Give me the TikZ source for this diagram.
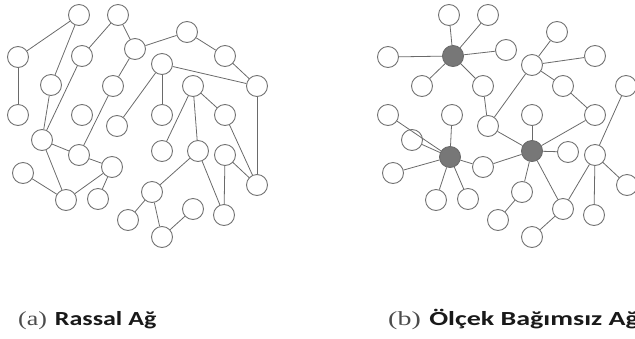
\documentclass[tikz,border=0pt]{standalone}
\usepackage{fontspec}
\newfontfamily\capfont{Carlito}
\newfontfamily\serfont{Liberation Serif}
\definecolor{edgec}{HTML}{6A6A6A}
\definecolor{ringc}{HTML}{737373}
\definecolor{hubc}{HTML}{777777}
\begin{document}
\begin{tikzpicture}[x=1pt,y=-1pt,
  nd/.style={circle,draw=ringc,line width=0.9pt,fill=white,minimum size=21pt,inner sep=0pt},
  hub/.style={nd,fill=hubc,draw=edgec},
  ed/.style={draw=edgec,line width=0.8pt},
  captext/.style={anchor=base west,inner sep=0pt}]
\useasboundingbox (0,0) rectangle (635,338);
% ---------- left graph ----------
\node[nd] (L1) at (79,15) {};
\node[nd] (L2) at (118,15) {};
\node[nd] (L3) at (18,57) {};
\node[nd] (L4) at (82,56) {};
\node[nd] (L5) at (135,49) {};
\node[nd] (L6) at (187,32) {};
\node[nd] (L7) at (225,56) {};
\node[nd] (L8) at (162,64) {};
\node[nd] (L9) at (51,85) {};
\node[nd] (L10) at (113,86) {};
\node[nd] (L11) at (193,86) {};
\node[nd] (L12) at (257,86) {};
\node[nd] (L13) at (18,115) {};
\node[nd] (L14) at (82,115) {};
\node[nd] (L15) at (117,126) {};
\node[nd] (L16) at (162,115) {};
\node[nd] (L17) at (225,115) {};
\node[nd] (L18) at (42,140) {};
\node[nd] (L19) at (79,155) {};
\node[nd] (L20) at (162,151) {};
\node[nd] (L21) at (198,151) {};
\node[nd] (L22) at (225,155) {};
\node[nd] (L23) at (112,167) {};
\node[nd] (L24) at (23,173) {};
\node[nd] (L25) at (66,200) {};
\node[nd] (L26) at (98,199) {};
\node[nd] (L27) at (152,192) {};
\node[nd] (L28) at (257,185) {};
\node[nd] (L29) at (193,209) {};
\node[nd] (L30) at (224,215) {};
\node[nd] (L31) at (128,220) {};
\node[nd] (L32) at (162,237) {};
\foreach \a/\b in {L3/L1,L3/L13,L1/L9,L9/L18,L4/L18,L2/L4,L2/L5,L5/L10,L10/L19,L5/L6,L6/L7,L7/L12,L8/L12,L8/L16,L8/L15,L11/L17,L11/L20,L11/L21,L17/L28,L12/L28,L21/L27,L21/L30,L22/L30,L22/L28,L27/L31,L27/L32,L29/L32,L18/L19,L18/L25,L19/L23,L23/L25,L23/L26,L24/L25}
  \draw[ed] (\a) -- (\b);
% ---------- right graph ----------
\node[hub] (H1) at (453,56) {};
\node[hub] (H2) at (450,157) {};
\node[hub] (H3) at (532,151) {};
\node[nd] (R1) at (449,15) {};
\node[nd] (R2) at (488,15) {};
\node[nd] (R3) at (388,57) {};
\node[nd] (R4) at (506,50) {};
\node[nd] (R5) at (422,86) {};
\node[nd] (R6) at (483,86) {};
\node[nd] (R7) at (557,32) {};
\node[nd] (R8) at (532,65) {};
\node[nd] (R9) at (595,56) {};
\node[nd] (R10) at (563,86) {};
\node[nd] (R11) at (626,86) {};
\node[nd] (R12) at (388,115) {};
\node[nd] (R13) at (452,115) {};
\node[nd] (R14) at (532,115) {};
\node[nd] (R15) at (595,115) {};
\node[nd] (R16) at (412,140) {};
\node[nd] (R17) at (488,126) {};
\node[nd] (R18) at (568,152) {};
\node[nd] (R19) at (595,155) {};
\node[nd] (R20) at (393,173) {};
\node[nd] (R21) at (483,167) {};
\node[nd] (R22) at (436,200) {};
\node[nd] (R23) at (468,199) {};
\node[nd] (R24) at (522,192) {};
\node[nd] (R25) at (627,185) {};
\node[nd] (R26) at (563,209) {};
\node[nd] (R27) at (594,215) {};
\node[nd] (R28) at (498,220) {};
\node[nd] (R29) at (532,237) {};
\foreach \a/\b in {H1/R1,H1/R2,H1/R3,H1/R4,H1/R5,H1/R6,R6/R17,R17/R8,R8/R7,R8/R9,R8/R10,R10/R15,R17/H3,H3/R14,H3/R15,H3/R18,H3/R21,H3/R24,H3/R26,R24/R28,R26/R29,R26/R19,R19/R11,R19/R27,R19/R25,H2/R12,H2/R13,H2/R16,H2/R20,H2/R21,H2/R22,H2/R23}
  \draw[ed] (\a) -- (\b);
% ---------- captions ----------
\node[captext] (ca) at (18,325) {\fontsize{20}{23}\selectfont\scalebox{1.3}[1]{{\serfont\color{black!70}(a)} {\capfont\bfseries\color{black!90}Rassal Ağ}}};
\node[captext] (cb) at (388,325) {\fontsize{20}{23}\selectfont\scalebox{1.4}[1]{{\serfont\color{black!70}(b)} {\capfont\bfseries\color{black!90}Ölçek Bağımsız Ağ}}};
\end{tikzpicture}
\end{document}
